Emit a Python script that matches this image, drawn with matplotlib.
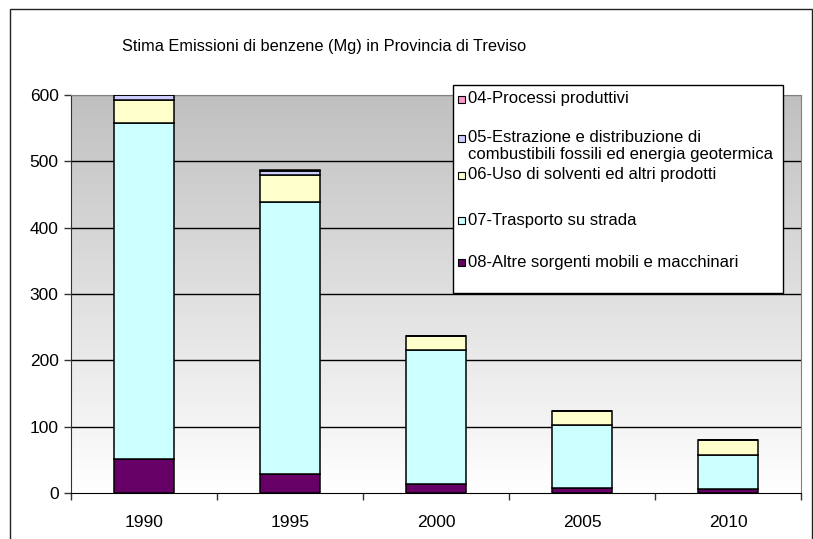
import numpy as np
import matplotlib
matplotlib.use("Agg")
import matplotlib.pyplot as plt
from matplotlib.patches import Rectangle

years = ["1990", "1995", "2000", "2005", "2010"]
s04 = [0.3, 0.2, 0.1, 0.1, 0.1]       # 04-Processi produttivi
s05 = [8, 6, 0.5, 0.4, 0.3]           # 05-Estrazione e distribuzione ...
s06 = [34, 41, 20, 20, 22]            # 06-Uso di solventi ed altri prodotti
s07 = [506, 411, 202, 95, 51]         # 07-Trasporto su strada
s08 = [52, 28, 14, 8, 6.5]            # 08-Altre sorgenti mobili e macchinari

labels = ["04-Processi produttivi",
          "05-Estrazione e distribuzione di\ncombustibili fossili ed energia geotermica",
          "06-Uso di solventi ed altri prodotti",
          "07-Trasporto su strada",
          "08-Altre sorgenti mobili e macchinari"]
colors = ["#ff99cc", "#ccccff", "#ffffcc", "#ccffff", "#660066"]
title = "Stima Emissioni di benzene (Mg) in Provincia di Treviso"

plt.rcParams['font.family'] = ['Liberation Sans', 'DejaVu Sans']

W, H = 813, 539
fig = plt.figure(figsize=(W / 100, H / 100), dpi=100)

def fx(px):
    return px / W

def fy(py):
    return 1 - py / H

# outer chart frame
fig.patches.append(Rectangle((fx(10), fy(545)), fx(812) - fx(10), fy(9) - fy(545),
                             transform=fig.transFigure, fill=False,
                             edgecolor="#222222", linewidth=1.0, zorder=0))

ax_l, ax_r, ax_t, ax_b = 71, 801, 95, 493
ax = fig.add_axes([fx(ax_l), fy(ax_b), fx(ax_r) - fx(ax_l), fy(ax_t) - fy(ax_b)])

# gradient background
grad = np.linspace(0, 1, 256).reshape(-1, 1)
top = np.array([192, 192, 192]) / 255
bot = np.array([255, 255, 255]) / 255
img = top + (bot - top) * grad[:, :, None]
ax.imshow(img, extent=[0, 1, 0, 1], transform=ax.transAxes, aspect="auto",
          zorder=0, interpolation="bilinear")

x = np.arange(len(years))
series = [s08, s07, s06, s05, s04]
cols = [colors[4], colors[3], colors[2], colors[1], colors[0]]
bottom = np.zeros(len(years))
for vals, c in zip(series, cols):
    ax.bar(x, vals, 0.41, bottom=bottom, color=c, edgecolor="black",
           linewidth=1.1, zorder=3)
    bottom += np.array(vals)

ax.set_xlim(-0.5, 4.5)
ax.set_ylim(0, 600)
ax.set_yticks(np.arange(0, 601, 100))
for v in range(100, 601, 100):
    ax.axhline(v, color="black" if v < 600 else "#808080", linewidth=1.0, zorder=1)

ax.set_xticks(np.arange(-0.5, 4.6, 1.0))
ax.set_xticklabels([])
ax.set_xticks(x, minor=True)
ax.set_xticklabels(years, minor=True)
ax.tick_params(axis="x", which="major", direction="out", length=5, width=1, color="#333333")
ax.tick_params(axis="x", which="minor", length=0, pad=16, labelsize=12.5)
ax.tick_params(axis="y", direction="out", length=5, width=1, pad=4, labelsize=12.5, color="#333333")

for s in ["top", "right"]:
    ax.spines[s].set_color("#808080")
ax.spines["left"].set_color("#333333")
ax.spines["bottom"].set_color("black")

# title
fig.text(fx(122), fy(46), title, fontsize=11.8, ha="left", va="center")

# legend box (manual)
lx0, ly0, lx1, ly1 = 453, 85, 783, 293
fig.patches.append(Rectangle((fx(lx0), fy(ly1)), fx(lx1) - fx(lx0), fy(ly0) - fy(ly1),
                             transform=fig.transFigure, facecolor="white",
                             edgecolor="black", linewidth=1.0, zorder=5))
ys = [99, 138, 175, 220, 262]
for lab, c, yy in zip(labels, colors, ys):
    fig.patches.append(Rectangle((fx(458), fy(yy + 3.5)), fx(7), 7 / H,
                                 transform=fig.transFigure, facecolor=c,
                                 edgecolor="black", linewidth=0.8, zorder=6))
    lines = lab.split("\n")
    for i, ln in enumerate(lines):
        fig.text(fx(468), fy(yy + i * 17), ln, fontsize=12, ha="left",
                 va="center", zorder=7)

fig.savefig("out.png", dpi=100)
